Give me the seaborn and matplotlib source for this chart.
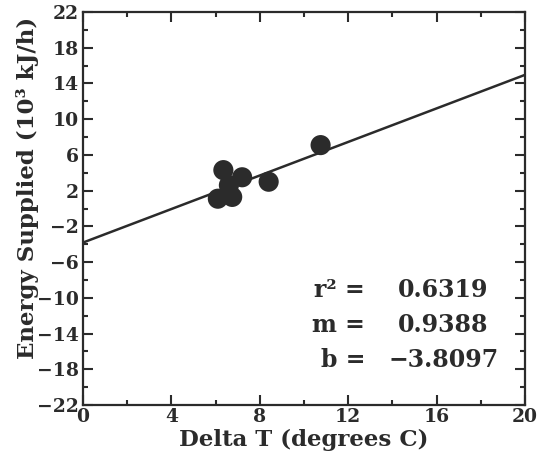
import matplotlib
matplotlib.use("Agg")
import matplotlib.pyplot as plt
import numpy as np
import pandas as pd
import seaborn as sns
from matplotlib.ticker import MultipleLocator

# 読み取ったデータ
delta_t = [6.35, 7.2, 6.1, 6.75, 6.6, 8.4, 10.75]
energy = [4.3, 3.5, 1.1, 1.3, 2.6, 3.0, 7.1]

r2 = 0.6319
slope = 0.9388
intercept = -3.8097

x_limits = [0, 20]
y_limits = [-22, 22]
y_ticks = np.arange(-22, 23, 4)

sns.set_theme(style="ticks")
plt.rcParams['font.family'] = ['DejaVu Serif']
plt.rcParams['font.weight'] = 'bold'

fig = plt.figure(figsize=(5.37, 4.71), dpi=100)
ax = fig.add_axes([0.1546, 0.140, 0.8231, 0.8345])

df = pd.DataFrame({"Delta T": delta_t, "Energy": energy})
sns.scatterplot(data=df, x="Delta T", y="Energy", ax=ax, s=210,
                color="#2b2b2b", edgecolor="none", zorder=3)

# 回帰直線
x_line = np.array(x_limits, dtype=float)
y_line = slope * x_line + intercept
sns.lineplot(x=x_line, y=y_line, ax=ax, color="#2b2b2b", linewidth=1.8)

ax.set_xlim(*x_limits)
ax.set_ylim(*y_limits)
ax.xaxis.set_major_locator(MultipleLocator(4))
ax.xaxis.set_minor_locator(MultipleLocator(2))
ax.set_yticks(y_ticks)
ax.yaxis.set_minor_locator(MultipleLocator(2))

ax.tick_params(which="both", direction="in", top=True, right=True,
               width=1.5, color="#2b2b2b", labelsize=13.5, labelcolor="#2b2b2b")
ax.tick_params(which="major", length=7)
ax.tick_params(which="minor", length=3.5)
ax.tick_params(axis="y", pad=3)
ax.tick_params(axis="x", pad=2)
for sp in ax.spines.values():
    sp.set_linewidth(1.6)
    sp.set_color("#2b2b2b")

ax.set_xlabel("Delta T (degrees C)", fontsize=16.5, fontweight="bold",
              color="#2b2b2b", labelpad=2)
ax.set_ylabel("Energy Supplied (10³ kJ/h)", fontsize=16.5, fontweight="bold",
              color="#2b2b2b")
ax.yaxis.set_label_coords(-0.10, 0.553)

# 統計量
labels = ["r² =", "m =", "b ="]
values = [r2, slope, intercept]
rows_y = [0.293, 0.204, 0.115]
for lab, val, yy in zip(labels, values, rows_y):
    ax.text(0.638, yy, lab, transform=ax.transAxes, ha="right", va="center",
            fontsize=17, fontweight="bold", color="#2b2b2b")
    x_val = 0.713 if val >= 0 else 0.692
    ax.text(x_val, yy, f"{val:.4f}".replace("-", "\u2212"),
            transform=ax.transAxes, ha="left", va="center",
            fontsize=17, fontweight="bold", color="#2b2b2b")

fig.savefig("out.png", dpi=100)
